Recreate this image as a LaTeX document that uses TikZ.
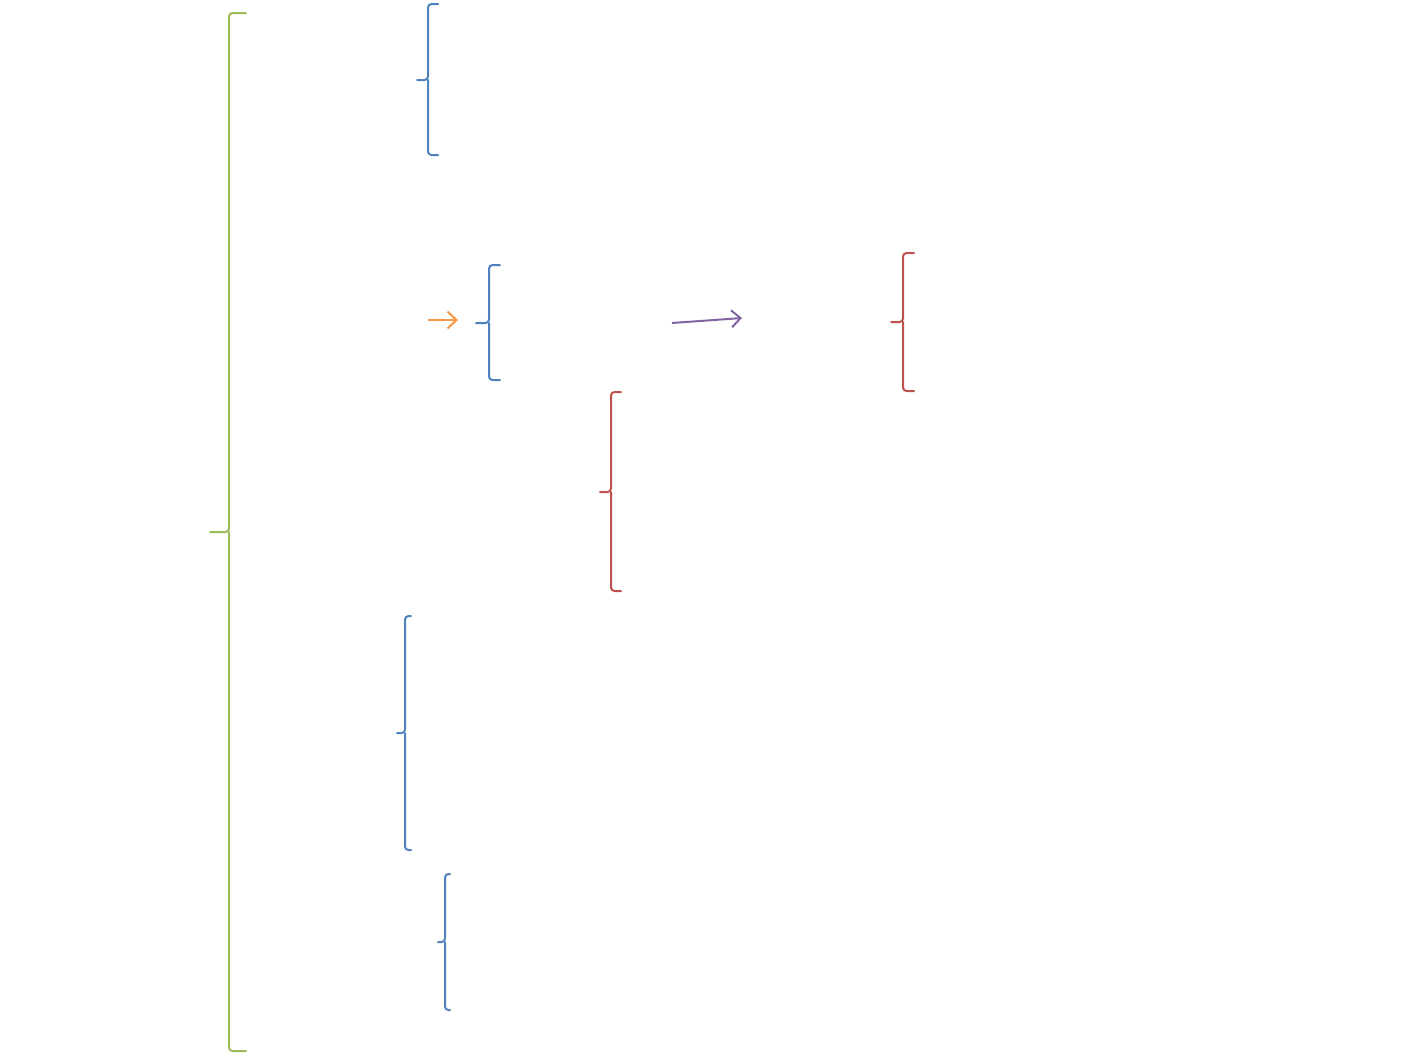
\documentclass[tikz,border=0pt]{standalone}
\usetikzlibrary{arrows.meta}
\definecolor{obl}{HTML}{4F81BD}
\definecolor{ored}{HTML}{C0504D}
\definecolor{ogr}{HTML}{9BBB59}
\definecolor{oor}{HTML}{F79646}
\definecolor{opu}{HTML}{8064A2}
% #1 colour, #2 spine x, #3 top y, #4 end x, #5 tip x, #6 tip y, #7 bottom y
\newcommand\mybrace[7]{%
  \draw[bracestyle,#1] (#4,#3) -- (#2,#3) -- (#2,#6) -- (#5,#6);
  \draw[bracestyle,#1] (#2,#6) -- (#2,#7) -- (#4,#7);
}
\tikzset{
  bracestyle/.style={line width=2pt, rounded corners=3.5pt, line cap=round},
  arr/.style={line width=2pt, -{Straight Barb[length=9pt,width=17pt,line width=2pt]}}
}
\begin{document}
\begin{tikzpicture}[x=1pt,y=-1pt]
\useasboundingbox (0,0) rectangle (1410,1053);
\mybrace{ogr}{229}{13}{246}{210}{532}{1051}
\mybrace{obl}{428}{4}{438}{417}{80}{155}
\mybrace{obl}{489}{265}{500}{476}{323}{380}
\mybrace{ored}{903}{253}{914}{891}{322}{391}
\mybrace{ored}{611}{392}{621}{600}{492}{591}
\mybrace{obl}{405}{616}{411}{397}{733}{850}
\mybrace{obl}{445}{874}{450}{438}{942}{1010}
\coordinate (oa) at (428,320);
\coordinate (ob) at (458,320);
\coordinate (pa) at (672,323);
\coordinate (pb) at (742,318);
\draw[arr,oor] (oa) -- (ob);
\draw[arr,opu] (pa) -- (pb);
\end{tikzpicture}
\end{document}
